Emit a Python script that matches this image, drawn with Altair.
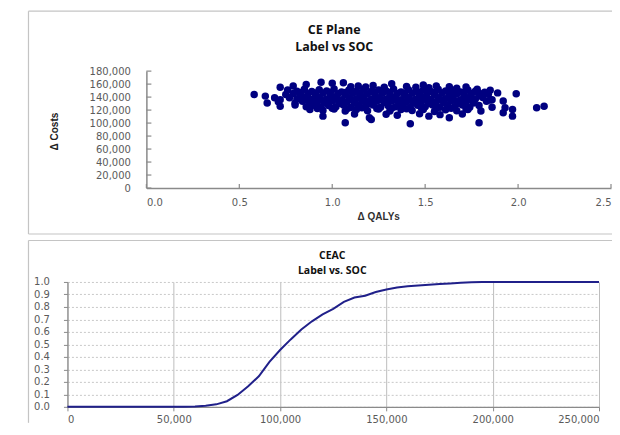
import altair as alt
import pandas as pd

# ---------------- data ----------------
# CE plane: incremental QALYs and costs (Label vs SOC)
qaly_draws = [
    0.72, 0.79, 0.86, 0.94, 1.00, 1.06, 1.10, 1.14, 1.18, 1.22, 1.28, 1.32, 1.40, 1.45, 1.49, 1.52, 1.56, 1.63, 1.67, 1.72, 1.78, 1.85,
    0.76, 0.81, 0.85, 0.89, 0.93, 0.97, 1.01, 1.05, 1.09, 1.13, 1.17, 1.21, 1.25, 1.29, 1.33, 1.37, 1.41, 1.45, 1.49, 1.53, 1.57, 1.61, 1.65, 1.69, 1.73, 1.77, 1.82,
    0.83, 0.91, 0.99, 1.07, 1.15, 1.23, 1.31, 1.39, 1.47, 1.55, 1.63, 1.71, 1.79,
    0.58, 0.64, 0.69, 0.75, 0.79, 0.83, 0.87, 0.91, 0.95, 0.99, 1.03, 1.07, 1.11, 1.15, 1.19, 1.23, 1.27, 1.31, 1.35, 1.39, 1.43, 1.47, 1.51, 1.55, 1.59, 1.63, 1.67, 1.71, 1.75, 1.79, 1.84, 1.89, 1.99,
    0.72, 0.77, 0.81, 0.85, 0.89, 0.93, 0.97, 1.01, 1.05, 1.09, 1.13, 1.17, 1.21, 1.25, 1.29, 1.33, 1.37, 1.41, 1.45, 1.49, 1.53, 1.57, 1.61, 1.65, 1.69, 1.73, 1.77, 1.81, 1.86,
    0.87, 0.95, 1.03, 1.11, 1.19, 1.27, 1.35, 1.43, 1.51, 1.59, 1.67, 1.75, 1.85,
    0.65, 0.71, 0.80, 0.84, 0.88, 0.92, 0.96, 1.00, 1.04, 1.08, 1.12, 1.16, 1.20, 1.24, 1.28, 1.32, 1.36, 1.40, 1.44, 1.48, 1.52, 1.56, 1.60, 1.64, 1.68, 1.72, 1.76, 1.83, 1.92,
    0.72, 0.80, 0.86, 0.90, 0.94, 0.98, 1.02, 1.06, 1.10, 1.14, 1.18, 1.22, 1.26, 1.30, 1.34, 1.38, 1.42, 1.46, 1.50, 1.54, 1.58, 1.62, 1.66, 1.70, 1.74, 1.79, 1.86, 1.93, 1.97, 2.10, 2.14,
    0.92, 1.00, 1.08, 1.16, 1.24, 1.32, 1.40, 1.48, 1.56, 1.64, 1.72,
    0.88, 0.95, 1.01, 1.07, 1.13, 1.19, 1.25, 1.31, 1.37, 1.43, 1.49, 1.55, 1.61, 1.67, 1.73, 1.80,
    0.95, 1.07, 1.12, 1.20, 1.21, 1.29, 1.35, 1.42, 1.47, 1.52, 1.58, 1.63, 1.70, 1.79, 1.92, 1.97,
]
cost_draws = [
    155300, 157000, 159500, 163000, 161500, 162000, 156000, 157000, 155500, 158000, 155000, 160500, 156500, 155000, 158500, 154500, 157000, 156000, 153500, 155500, 152000, 150500,
    151000, 149000, 152000, 148500, 151500, 149500, 152500, 148000, 151000, 149000, 152000, 148500, 151000, 149500, 152500, 148000, 151500, 149000, 151000, 148500, 152000, 149500, 150500, 148000, 151000, 149000, 147500,
    147000, 146500, 147500, 147000, 146500, 147500, 147000, 146000, 147500, 147000, 146500, 147000, 146000,
    144000, 141500, 139000, 144000, 145500, 142500, 145000, 143000, 146000, 142000, 145000, 143500, 146000, 142500, 145000, 143000, 146000, 142000, 145500, 143000, 146000, 142500, 145000, 143500, 146000, 142000, 145000, 143000, 145500, 142000, 144500, 146500, 145000,
    136000, 139000, 137500, 140000, 136500, 139500, 137000, 140000, 136000, 139000, 137500, 140500, 136500, 139000, 137000, 140000, 136000, 139500, 137000, 140000, 136500, 139000, 137500, 140000, 136000, 139000, 137000, 139500, 136000,
    135000, 134500, 135500, 135000, 134000, 135500, 135000, 134500, 135500, 135000, 134000, 135000, 135500,
    131000, 133000, 131000, 133500, 130000, 133000, 131000, 134000, 130500, 133000, 131000, 134000, 130000, 133500, 131500, 134000, 130500, 133000, 131000, 134000, 130000, 133000, 131500, 134000, 130500, 133000, 131000, 133500, 134000,
    126000, 128000, 125000, 127500, 124500, 127000, 125000, 128000, 124000, 127000, 125500, 128000, 124500, 127000, 125000, 128000, 124000, 127500, 125000, 128000, 124500, 127000, 125000, 128000, 124500, 127000, 124500, 123500, 121000, 123500, 126000,
    122500, 123000, 122000, 123500, 122500, 123000, 122000, 123500, 122500, 123000, 122000,
    121000, 119500, 121500, 118500, 121000, 119000, 121500, 118500, 121000, 119500, 121000, 118000, 120500, 119000, 121000, 118500,
    110700, 100400, 114000, 108100, 105600, 113500, 112000, 98900, 114500, 110700, 113000, 108100, 114000, 100400, 115800, 110700,
]

# CEAC: willingness to pay vs probability Label is cost-effective
wtp = [0, 5000, 10000, 15000, 20000, 25000, 30000, 35000, 40000, 45000,
       50000, 55000, 60000, 65000, 70000, 75000, 80000, 85000, 90000, 95000,
       100000, 105000, 110000, 115000, 120000, 125000, 130000, 135000, 140000, 145000,
       150000, 155000, 160000, 165000, 170000, 175000, 180000, 185000, 190000, 195000,
       200000, 205000, 210000, 215000, 220000, 225000, 230000, 235000, 240000, 245000, 250000]
prob_ce = [0, 0, 0, 0, 0, 0, 0, 0, 0, 0,
           0, 0, 0.002, 0.008, 0.02, 0.045, 0.095, 0.165, 0.245, 0.36,
           0.455, 0.54, 0.62, 0.685, 0.74, 0.785, 0.84, 0.875, 0.89, 0.92,
           0.94, 0.955, 0.965, 0.972, 0.978, 0.983, 0.988, 0.993, 0.997, 0.999,
           1, 1, 1, 1, 1, 1, 1, 1, 1, 1, 1]

ce_x_ticks = [0.0, 0.5, 1.0, 1.5, 2.0, 2.5]
ce_y_ticks = [0, 20000, 40000, 60000, 80000, 100000, 120000, 140000, 160000, 180000]
ceac_x_ticks = [0, 50000, 100000, 150000, 200000, 250000]
ceac_y_ticks = [0.0, 0.1, 0.2, 0.3, 0.4, 0.5, 0.6, 0.7, 0.8, 0.9, 1.0]

ce_titles = ["CE Plane", "Label vs SOC"]
ceac_titles = ["CEAC", "Label vs. SOC"]

# ---------------- style ----------------
LABEL_FONT = "DejaVu Sans"
TITLE_FONT = "Open Sans"
NARROW_FONT = "Liberation Sans Narrow, Liberation Sans, sans-serif"
AXIS_GREY = "#8a8a8a"
FRAME_GREY = "#c4c4c4"

one = pd.DataFrame({"k": [0]})

# both panels share the same group origin (page x = 68); the CE plane's
# x range and y axis are shifted right to start at page x = 147
SHIFT = 79
FRAME_RIGHT = 600  # frame lines run past the right edge and are clipped there

# ---------------- CE plane ----------------
W1, H1 = 544, 117
xs1 = alt.Scale(domain=[0, 2.5], nice=False, zero=False, range=[SHIFT, W1])
ys1 = alt.Scale(domain=[0, 180000], nice=False)

x_axis1 = alt.Axis(
    values=ce_x_ticks, format=".1f", title="Δ QALYs", ticks=False, grid=False,
    labelPadding=9, domainColor=AXIS_GREY, domainWidth=1.5,
    titleFont=NARROW_FONT, titleFontSize=10, titleFontWeight="bold",
    titleColor="#303030", titleX=SHIFT + 232, titleY=29, titleBaseline="middle")
y_axis1 = alt.Axis(
    values=ce_y_ticks, format=",.0f", title="Δ Costs", ticks=False, grid=False,
    labelPadding=16, domainColor=AXIS_GREY, domainWidth=1.5, offset=-SHIFT,
    titleFont=NARROW_FONT, titleFontSize=10, titleFontWeight="bold",
    titleColor="#202020", titleX=-92, titleY=60, titleBaseline="middle")

ce_df = pd.DataFrame({"q": qaly_draws, "c": cost_draws})
pts = alt.Chart(ce_df).mark_circle(size=56, color="#000080", opacity=1).encode(
    x=alt.X("q:Q", scale=xs1, axis=x_axis1),
    y=alt.Y("c:Q", scale=ys1, axis=y_axis1),
)

ytick1 = alt.Chart(pd.DataFrame({"c": ce_y_ticks})).mark_rule(color=AXIS_GREY, strokeWidth=1.2).encode(
    y=alt.Y("c:Q", scale=ys1, axis=y_axis1), x=alt.value(SHIFT), x2=alt.value(SHIFT + 5))
xtick1 = alt.Chart(pd.DataFrame({"q": ce_x_ticks})).mark_rule(color=AXIS_GREY, strokeWidth=1.2).encode(
    x=alt.X("q:Q", scale=xs1, axis=x_axis1), y=alt.value(H1), y2=alt.value(H1 - 4))

frame1 = [
    alt.Chart(one).mark_rule(color=FRAME_GREY, strokeWidth=1.2).encode(
        x=alt.value(-39), y=alt.value(-60), y2=alt.value(163)),
    alt.Chart(one).mark_rule(color=FRAME_GREY, strokeWidth=1.2).encode(
        x=alt.value(-39), x2=alt.value(FRAME_RIGHT), y=alt.value(-60)),
    alt.Chart(one).mark_rule(color=FRAME_GREY, strokeWidth=1.2).encode(
        x=alt.value(-39), x2=alt.value(FRAME_RIGHT), y=alt.value(163)),
]
t1a = alt.Chart(one).mark_text(font=TITLE_FONT, fontSize=12.5, fontWeight="bold", color="#111111",
                               align="center", baseline="middle").encode(
    text=alt.value(ce_titles[0]), x=alt.value(267), y=alt.value(-41.5))
t1b = alt.Chart(one).mark_text(font=TITLE_FONT, fontSize=12.5, fontWeight="bold", color="#111111",
                               align="center", baseline="middle").encode(
    text=alt.value(ce_titles[1]), x=alt.value(267), y=alt.value(-24))

ce_chart = alt.layer(pts, ytick1, xtick1, *frame1, t1a, t1b).properties(width=W1, height=H1)

# ---------------- CEAC ----------------
W2, H2 = 532, 125
xs2 = alt.Scale(domain=[0, 250000], nice=False)
ys2 = alt.Scale(domain=[0, 1], nice=False)

ceac_df = pd.DataFrame({"w": wtp, "p": prob_ce})
line = alt.Chart(ceac_df).mark_line(color="#20208a", strokeWidth=2).encode(
    x=alt.X("w:Q", scale=xs2, axis=alt.Axis(
        values=ceac_x_ticks, format=",.0f", title=None, grid=True,
        gridColor="#bdbdbd", gridWidth=1,
        tickSize=4, tickColor=AXIS_GREY, labelPadding=4, domainColor=AXIS_GREY, domainWidth=1.2)),
    y=alt.Y("p:Q", scale=ys2, axis=alt.Axis(
        values=ceac_y_ticks, format=".1f", title=None, grid=True,
        gridColor="#c8c8c8", gridDash=[2, 2], gridWidth=1,
        tickSize=4, tickColor=AXIS_GREY, labelPadding=14, domainColor=AXIS_GREY, domainWidth=1.2)),
)
frame2 = [
    alt.Chart(one).mark_rule(color=FRAME_GREY, strokeWidth=1.2).encode(
        x=alt.value(-39), y=alt.value(-41.5), y2=alt.value(141)),
    alt.Chart(one).mark_rule(color=FRAME_GREY, strokeWidth=1.2).encode(
        x=alt.value(-39), x2=alt.value(FRAME_RIGHT), y=alt.value(-41.5)),
]
t2a = alt.Chart(one).mark_text(font=TITLE_FONT, fontSize=10.5, fontWeight="bold", color="#111111",
                               align="center", baseline="middle").encode(
    text=alt.value(ceac_titles[0]), x=alt.value(265), y=alt.value(-25.5))
t2b = alt.Chart(one).mark_text(font=TITLE_FONT, fontSize=10.5, fontWeight="bold", color="#111111",
                               align="center", baseline="middle").encode(
    text=alt.value(ceac_titles[1]), x=alt.value(265), y=alt.value(-11))

ceac_chart = alt.layer(line, *frame2, t2a, t2b).properties(width=W2, height=H2)

# negative right padding clips the overlong frame lines at the page edge
chart = alt.vconcat(ce_chart, ceac_chart, spacing=4).properties(
    padding={"left": 19.5, "top": 2, "right": -56, "bottom": 0},
    background="white",
).configure_view(stroke=None).configure_axis(
    labelFont=LABEL_FONT, labelFontSize=10, labelColor="#5a5a5a",
)

chart.save("out.html", embed_options={"renderer": "svg", "actions": False})
